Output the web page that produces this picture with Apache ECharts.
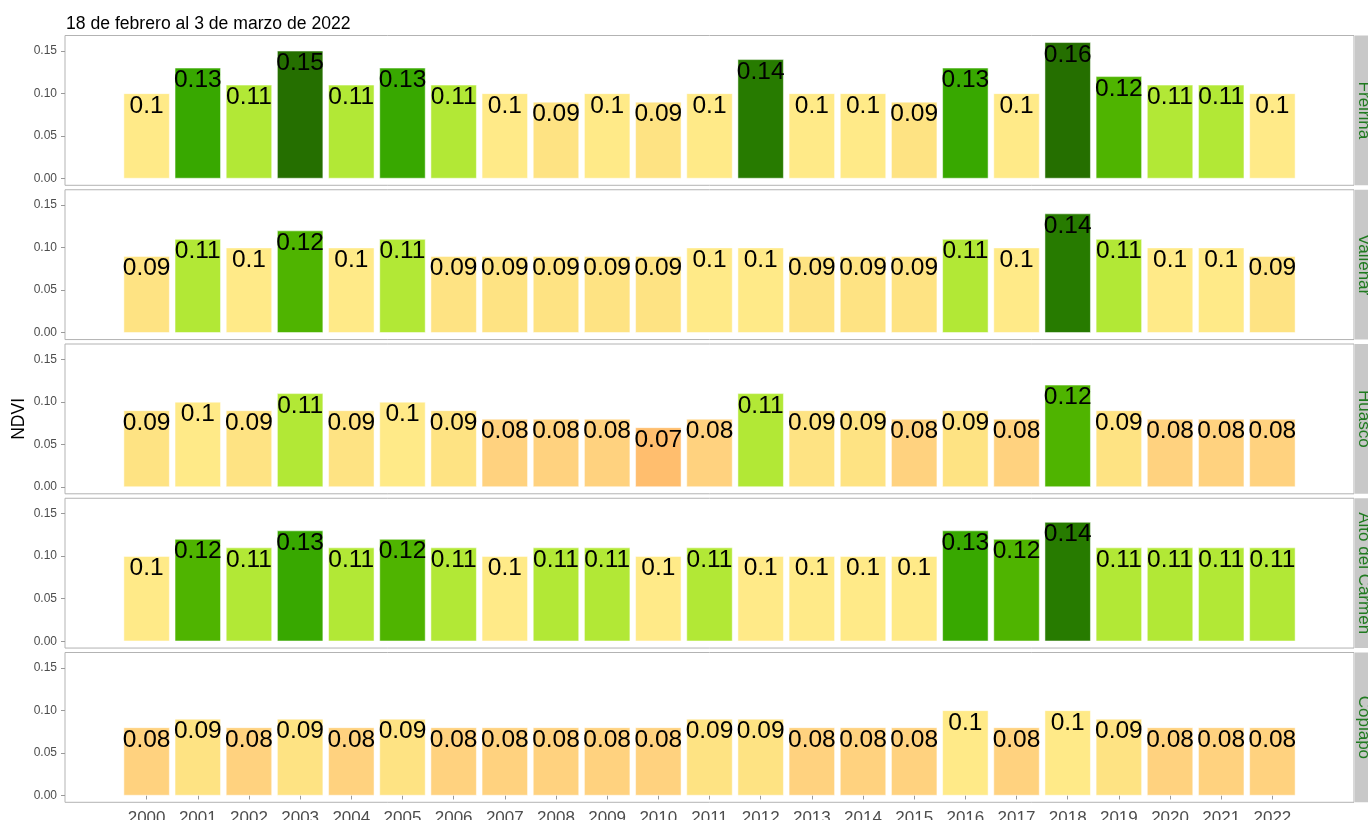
<!DOCTYPE html>
<html>
<head>
<meta charset="utf-8">
<script src="https://cdn.jsdelivr.net/npm/echarts@6/dist/echarts.min.js"></script>
<style>
  html, body { margin: 0; padding: 0; background: #ffffff; }
  #chart { width: 1368px; height: 820px; }
</style>
</head>
<body>
<div id="chart"></div>
<script>
// NDVI promedio por comuna, 18 de febrero al 3 de marzo de cada año
const years = [2000, 2001, 2002, 2003, 2004, 2005, 2006, 2007, 2008, 2009, 2010, 2011,
               2012, 2013, 2014, 2015, 2016, 2017, 2018, 2019, 2020, 2021, 2022];

const comunas = ['Freirina', 'Vallenar', 'Huasco', 'Alto del Carmen', 'Copiapo'];

const freirina = [0.1, 0.13, 0.11, 0.15, 0.11, 0.13, 0.11, 0.1, 0.09, 0.1, 0.09, 0.1,
                  0.14, 0.1, 0.1, 0.09, 0.13, 0.1, 0.16, 0.12, 0.11, 0.11, 0.1];
const vallenar = [0.09, 0.11, 0.1, 0.12, 0.1, 0.11, 0.09, 0.09, 0.09, 0.09, 0.09, 0.1,
                  0.1, 0.09, 0.09, 0.09, 0.11, 0.1, 0.14, 0.11, 0.1, 0.1, 0.09];
const huasco = [0.09, 0.1, 0.09, 0.11, 0.09, 0.1, 0.09, 0.08, 0.08, 0.08, 0.07, 0.08,
                0.11, 0.09, 0.09, 0.08, 0.09, 0.08, 0.12, 0.09, 0.08, 0.08, 0.08];
const altoDelCarmen = [0.1, 0.12, 0.11, 0.13, 0.11, 0.12, 0.11, 0.1, 0.11, 0.11, 0.1, 0.11,
                       0.1, 0.1, 0.1, 0.1, 0.13, 0.12, 0.14, 0.11, 0.11, 0.11, 0.11];
const copiapo = [0.08, 0.09, 0.08, 0.09, 0.08, 0.09, 0.08, 0.08, 0.08, 0.08, 0.08, 0.09,
                 0.09, 0.08, 0.08, 0.08, 0.1, 0.08, 0.1, 0.09, 0.08, 0.08, 0.08];

const seriesByComuna = [freirina, vallenar, huasco, altoDelCarmen, copiapo];

const yTicks = [0, 0.05, 0.1, 0.15];

// Escala de color NDVI (de seco a verde)
const ndviBreaks = [0.075, 0.085, 0.095, 0.105, 0.115, 0.125, 0.135, 0.145];
const ndviColors = ['#ffbe6e', '#ffd27f', '#fee383', '#ffea88', '#b2e836',
                    '#4fb400', '#38a800', '#277b00', '#256f00'];
function ndviColor(v) {
  let i = 0;
  while (i < ndviBreaks.length && v >= ndviBreaks[i]) i++;
  return ndviColors[i];
}

const FONT = '"Liberation Sans", Arial, sans-serif';

// Geometría de los paneles (facetas)
const panelLeft = 65, panelRight = 1354;
const panelTop0 = 35.5, panelH = 149.8, panelStep = 154.25;

// Rango continuo del eje x: barras de ancho 0.9 más 5 % de expansión
const xSpan = years[years.length - 1] - years[0] + 0.9;
const xMin = years[0] - 0.45 - 0.05 * xSpan;
const xMax = years[years.length - 1] + 0.45 + 0.05 * xSpan;
// Rango y: 0 a 0.16 con 5 % de expansión
const yMin = -0.008, yMax = 0.168;

const grids = [], xAxes = [], yAxes = [], series = [], graphics = [];

comunas.forEach((name, k) => {
  const top = panelTop0 + k * panelStep;
  const isLast = k === comunas.length - 1;
  grids.push({
    left: panelLeft, width: panelRight - panelLeft, top: top, height: panelH,
    outerBoundsMode: 'none', containLabel: false,
    show: true, borderColor: '#b3b3b3', borderWidth: 1, backgroundColor: 'transparent'
  });
  xAxes.push({
    type: 'value', gridIndex: k, min: xMin, max: xMax,
    splitLine: { show: false },
    axisLine: { show: false },
    axisTick: { show: isLast, customValues: years, length: 4, lineStyle: { color: '#9a9a9a' } },
    axisLabel: {
      show: isLast, customValues: years, formatter: v => String(v),
      color: '#4d4d4d', fontSize: 17, fontFamily: FONT, margin: 8
    }
  });
  yAxes.push({
    type: 'value', gridIndex: k, min: yMin, max: yMax,
    splitLine: { show: false },
    axisLine: { show: false },
    axisTick: { show: true, customValues: yTicks, length: 4, lineStyle: { color: '#9a9a9a' } },
    axisLabel: {
      customValues: yTicks, formatter: v => v.toFixed(2),
      color: '#4d4d4d', fontSize: 12, fontFamily: FONT, margin: 8
    }
  });
  series.push({
    type: 'bar', name: name, xAxisIndex: k, yAxisIndex: k,
    barWidth: 46,
    data: years.map((y, i) => ({
      value: [y, seriesByComuna[k][i]],
      itemStyle: { color: ndviColor(seriesByComuna[k][i]) }
    })),
    itemStyle: { borderColor: '#ffffff', borderWidth: 0.5 },
    label: {
      show: true, position: 'insideTop', distance: 0,
      formatter: p => String(p.value[1]),
      color: '#000000', fontSize: 24.5, fontFamily: FONT
    },
    emphasis: { disabled: true },
    animation: false
  });
  // Franja del panel con el nombre de la comuna
  graphics.push({
    type: 'rect', left: 1355, top: top, z: 10,
    shape: { x: 0, y: 0, width: 30, height: panelH },
    style: { fill: '#c8c8c8' }
  });
  graphics.push({
    type: 'text', x: 1364, y: top + panelH / 2, rotation: -Math.PI / 2, z: 11,
    style: {
      text: name, fill: '#1f7a1f', font: '17px ' + FONT,
      textAlign: 'center', textVerticalAlign: 'middle'
    }
  });
});

// Título del eje y
graphics.push({
  type: 'text', x: 19, y: panelTop0 + (4 * panelStep + panelH) / 2, rotation: Math.PI / 2, z: 11,
  style: {
    text: 'NDVI', fill: '#000000', font: '17.5px ' + FONT,
    textAlign: 'center', textVerticalAlign: 'middle'
  }
});

const chart = echarts.init(document.getElementById('chart'), null, { renderer: 'canvas' });
chart.setOption({
  backgroundColor: '#ffffff',
  animation: false,
  title: {
    text: '18 de febrero al 3 de marzo de 2022',
    left: 61, top: 10,
    textStyle: { color: '#000000', fontSize: 17.6, fontWeight: 'normal', fontFamily: FONT }
  },
  grid: grids,
  xAxis: xAxes,
  yAxis: yAxes,
  series: series,
  graphic: graphics
});
</script>
</body>
</html>
